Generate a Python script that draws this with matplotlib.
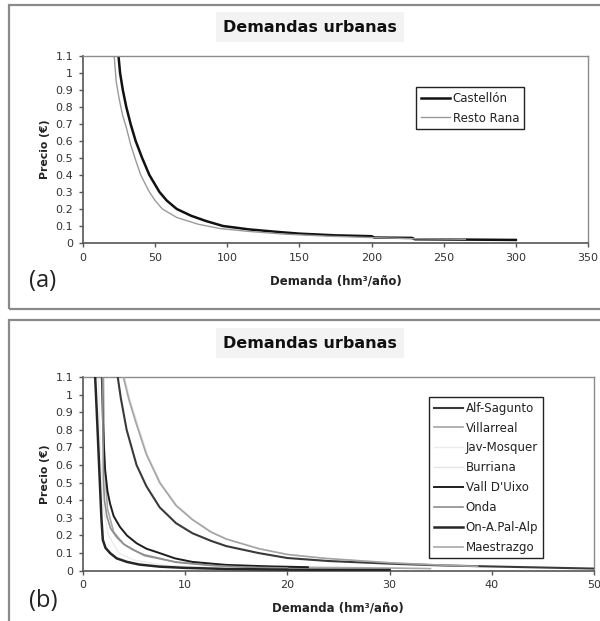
import matplotlib
matplotlib.use("Agg")
import matplotlib.pyplot as plt
from matplotlib.patches import Rectangle

plt.rcParams['font.family'] = ['DejaVu Sans']

# ---- Panel (a): Castellón vs Resto Rana ----
castellon_q = [24.6, 25.7, 27.6, 30, 33, 36.5, 41, 46, 53, 58, 65, 75, 85, 97, 115, 135,
               150, 175, 200, 202, 228, 230, 265, 300]
castellon_p = [1.1, 1.0, 0.9, 0.8, 0.7, 0.6, 0.5, 0.4, 0.3, 0.25, 0.2, 0.16, 0.13, 0.1,
               0.08, 0.065, 0.055, 0.045, 0.04, 0.032, 0.03, 0.022, 0.02, 0.018]
resto_q = [21.6, 23, 25, 27.5, 30, 33, 36, 40, 46, 50, 55, 65, 80, 95, 115, 140, 170,
           200, 230, 265]
resto_p = [1.1, 0.95, 0.85, 0.75, 0.68, 0.58, 0.5, 0.4, 0.3, 0.25, 0.2, 0.15, 0.11, 0.085,
           0.068, 0.052, 0.04, 0.032, 0.025, 0.022]

# ---- Panel (b): smaller demand units ----
b_names = ['Alf-Sagunto', 'Villarreal', 'Jav-Mosquer', 'Burriana', "Vall D'Uixo",
           'Onda', 'On-A.Pal-Alp', 'Maestrazgo']
alf_q = [3.4, 3.7, 4.27, 5.24, 6.2, 7.5, 9.1, 10.7, 12.5, 14, 17.2, 20, 24, 30, 35, 40,
         45, 50]
alf_p = [1.1, 0.98, 0.8, 0.6, 0.48, 0.36, 0.27, 0.213, 0.17, 0.14, 0.1, 0.072, 0.055,
         0.04, 0.03, 0.024, 0.018, 0.012]
vil_q = [3.95, 4.5, 5.24, 6.2, 7.5, 9.1, 10.7, 12.5, 14, 17.2, 20, 23.7, 30, 35, 38.6]
vil_p = [1.1, 0.97, 0.83, 0.66, 0.5, 0.37, 0.29, 0.22, 0.18, 0.125, 0.092, 0.07, 0.045,
         0.032, 0.025]
jav_q = [1.5, 1.7, 2.0, 2.5, 3.5, 5, 8, 12]
jav_p = [1.1, 0.7, 0.35, 0.2, 0.1, 0.06, 0.03, 0.02]
bur_q = [4.05, 4.6, 5.35, 6.3, 7.6, 9.2, 10.8, 12.6, 14.1, 17.3, 20.1, 23.8, 30, 35]
bur_p = [1.1, 0.97, 0.83, 0.66, 0.5, 0.37, 0.29, 0.22, 0.18, 0.125, 0.092, 0.07, 0.045,
         0.032]
vall_q = [1.84, 1.95, 2.05, 2.17, 2.4, 2.65, 3.0, 3.6, 4.3, 5.24, 6.2, 7.5, 9, 10.7, 14,
          18, 22]
vall_p = [1.1, 0.85, 0.7, 0.57, 0.45, 0.38, 0.31, 0.25, 0.2, 0.156, 0.125, 0.1, 0.07,
          0.05, 0.033, 0.025, 0.02]
onda_q = [1.9, 1.95, 2.0, 2.1, 2.33, 2.7, 3.3, 4.0, 4.9, 6.0, 7.5, 9.1, 12.4, 16, 20]
onda_p = [1.1, 0.8, 0.52, 0.4, 0.31, 0.24, 0.19, 0.15, 0.118, 0.09, 0.07, 0.048, 0.03,
          0.02, 0.015]
onap_q = [1.19, 1.35, 1.5, 1.65, 1.8, 1.94, 2.2, 2.65, 3.3, 4.3, 5.5, 7.5, 10, 14, 20, 30]
onap_p = [1.1, 0.9, 0.7, 0.5, 0.3, 0.175, 0.13, 0.1, 0.07, 0.05, 0.035, 0.023, 0.016,
          0.01, 0.006, 0.004]
mae_q = [2.0, 2.1, 2.4, 3.0, 4, 6, 9, 13, 20, 30, 34]
mae_p = [1.1, 0.6, 0.35, 0.22, 0.15, 0.085, 0.05, 0.03, 0.02, 0.015, 0.012]

b_q = [alf_q, vil_q, jav_q, bur_q, vall_q, onda_q, onap_q, mae_q]
b_p = [alf_p, vil_p, jav_p, bur_p, vall_p, onda_p, onap_p, mae_p]
b_colors = ['#3a3a3a', '#a4a4a4', '#ececec', '#e4e4e4', '#1e1e1e', '#8e8e8e',
            '#262626', '#a8a8a8']
b_widths = [1.5, 1.2, 1.0, 1.0, 1.4, 1.2, 1.8, 1.2]
b_order = [3, 3, 1, 1, 3, 3, 3, 2]

y_ticks = [0, 0.1, 0.2, 0.3, 0.4, 0.5, 0.6, 0.7, 0.8, 0.9, 1, 1.1]
y_tick_labels = ['0', '0.1', '0.2', '0.3', '0.4', '0.5', '0.6', '0.7', '0.8', '0.9',
                 '1', '1.1']

W, H = 600, 621
fig = plt.figure(figsize=(W / 100, H / 100), dpi=100)
fig.patch.set_facecolor('white')


def fx(px):
    return px / W


def fy(py):
    return 1 - py / H


# panel frames
for top, bottom in [(5, 309), (320, 640)]:
    fig.add_artist(Rectangle((fx(9), fy(bottom)), fx(600 - 9 + 5), fy(top) - fy(bottom),
                             transform=fig.transFigure, fill=False,
                             edgecolor='#8a8a8a', linewidth=1.6))


def style_axes(ax, xmax, xstep):
    ax.set_ylim(0, 1.1)
    ax.set_xlim(0, xmax)
    ax.set_yticks(y_ticks)
    ax.set_yticklabels(y_tick_labels)
    ax.set_xticks(list(range(0, xmax + 1, xstep)))
    for side in ['top', 'right']:
        ax.spines[side].set_color('#8c8c8c')
        ax.spines[side].set_linewidth(1.0)
    for side in ['left', 'bottom']:
        ax.spines[side].set_color('#555555')
        ax.spines[side].set_linewidth(1.2)
    ax.tick_params(axis='both', direction='out', length=3, width=1, color='#555555',
                   labelsize=8, labelcolor='#333333', pad=4)
    ax.set_ylabel('Precio (€)', fontsize=7.8, fontweight='bold', labelpad=4,
                  color='#222222')


def title_text(py):
    fig.text(fx(310), fy(py), 'Demandas urbanas', ha='center', va='center',
             fontsize=11.5, fontweight='bold', color='#111111',
             bbox=dict(boxstyle='square,pad=0.45', facecolor='#f3f3f3', edgecolor='none'))


def add_legend(ax, x0, y0):
    leg = ax.legend(loc='upper left', bbox_to_anchor=(fx(x0), fy(y0)),
                    bbox_transform=fig.transFigure, fontsize=8.5, frameon=True,
                    fancybox=False, edgecolor='#222222', framealpha=1,
                    handlelength=2.5, handletextpad=0.2, labelspacing=0.58,
                    borderpad=0.4, borderaxespad=0)
    leg.get_frame().set_linewidth(1.0)
    for t in leg.get_texts():
        t.set_color('#222222')


# ---- panel (a) ----
axa = fig.add_axes([fx(83), fy(243), fx(588 - 83), fy(56) - fy(243)])
axa.plot(castellon_q, castellon_p, color='#111111', lw=1.8, label='Castellón')
axa.plot(resto_q, resto_p, color='#9a9a9a', lw=1.0, label='Resto Rana')
style_axes(axa, 350, 50)
title_text(27)
fig.text(fx(336), fy(281), 'Demanda (hm³/año)', ha='center', va='center',
         fontsize=8.5, fontweight='bold', color='#222222')
fig.text(fx(29), fy(281), '(a)', ha='left', va='center', fontsize=17,
         family='Open Sans', color='#222222')
add_legend(axa, 416, 87)

# ---- panel (b) ----
axb = fig.add_axes([fx(83), fy(570.7), fx(594 - 83), fy(377) - fy(570.7)])
for q, p, name, c, w, z in zip(b_q, b_p, b_names, b_colors, b_widths, b_order):
    axb.plot(q, p, color=c, lw=w, label=name, zorder=z)
style_axes(axb, 50, 10)
title_text(343)
fig.text(fx(338), fy(608), 'Demanda (hm³/año)', ha='center', va='center',
         fontsize=8.5, fontweight='bold', color='#222222')
fig.text(fx(29), fy(601), '(b)', ha='left', va='center', fontsize=17,
         family='Open Sans', color='#222222')
add_legend(axb, 429, 397)

fig.savefig('out.png', dpi=100)
